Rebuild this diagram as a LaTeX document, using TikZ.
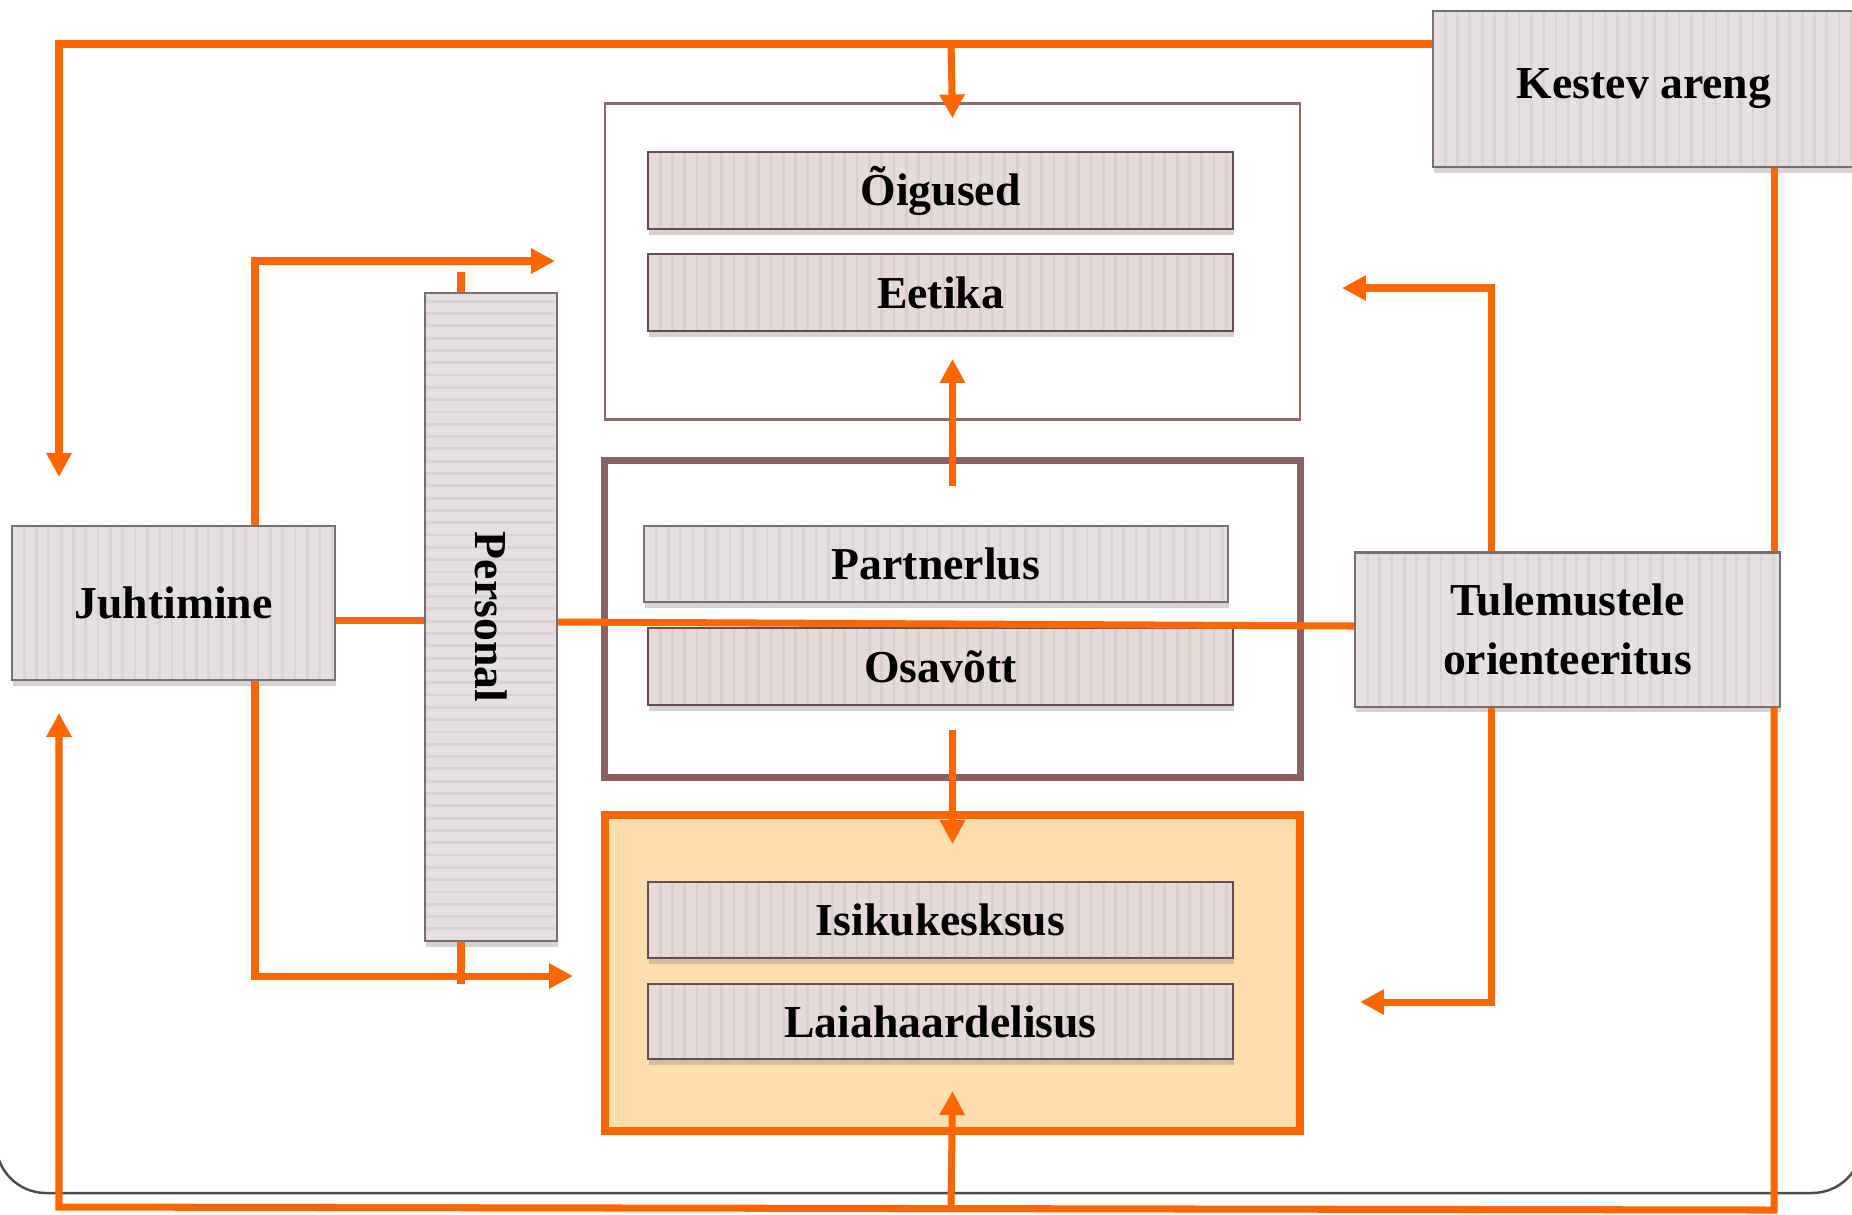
\documentclass[tikz,border=0pt]{standalone}
\usepackage{fontspec}
\setmainfont{Liberation Serif}
\usepackage{tikz}
\usetikzlibrary{arrows.meta,shadows}
\definecolor{orng}{rgb}{1,0.4,0}
\definecolor{peach}{rgb}{1,0.87,0.68}
\definecolor{cardgray}{rgb}{0.9,0.88,0.88}
\definecolor{cardpink}{rgb}{0.9,0.85,0.85}
\definecolor{cardline}{rgb}{0.48,0.43,0.43}
\definecolor{pinkline}{rgb}{0.42,0.3,0.3}
\definecolor{grpbrown}{rgb}{0.54,0.38,0.38}
\definecolor{grpline}{rgb}{0.55,0.42,0.42}

\begin{document}
\begin{tikzpicture}[>={Triangle[length=6.8pt,width=6.8pt]},x=0.01cm,y=-0.01cm,
  link/.style={draw=orng,line width=2pt},
  cardbase/.style={draw=cardline,line width=0.6pt,fill=cardgray,inner sep=0pt,
    font=\bfseries\fontsize{13}{17}\selectfont,align=center,
    drop shadow={shadow xshift=0.2pt,shadow yshift=-1.6pt,opacity=0.35}},
  card/.style={cardbase,path picture={
    \foreach \s in {0,...,70}
      \draw[black,opacity=0.05,line width=0.8pt]
        ([xshift=\s*3.5pt]path picture bounding box.south west) --
        ([xshift=\s*3.5pt]path picture bounding box.north west);}},
  pinkcard/.style={card,fill=cardpink,draw=pinkline},
  tallcard/.style={cardbase,path picture={
    \foreach \s in {0,...,60}
      \draw[black,opacity=0.05,line width=0.8pt]
        ([yshift=\s*3.5pt]path picture bounding box.south west) --
        ([yshift=\s*3.5pt]path picture bounding box.south east);}},
  group/.style={minimum width=6.95cm,minimum height=3.16cm,inner sep=0pt}]
      \useasboundingbox (0,0) rectangle (1852,1214);
      \clip (0,0) rectangle (1852,1214);
      % slide frame
      \draw[black!70,line width=0.7pt,rounded corners=0.5cm] (-4,-100) rectangle (1862,1193);
      % the three groups
      \node[group,draw=grpline,line width=0.7pt] (rightsgrp) at (952.5,261.5) {};
      \node[group,draw=grpbrown,line width=2pt] (partgrp) at (952.5,619) {};
      \node[group,draw=orng,fill=peach,line width=2.2pt] (persgrp) at (952.5,973) {};
      % cards
      \node[card,minimum width=4.22cm,minimum height=1.56cm] (kestev) at (1644,89) {Kestev areng};
      \node[pinkcard,minimum width=5.85cm,minimum height=0.77cm] (oigused) at (940.5,190.5) {Õigused};
      \node[pinkcard,minimum width=5.85cm,minimum height=0.77cm] (eetika) at (940.5,292.5) {Eetika};
      \node[card,minimum width=5.84cm,minimum height=0.76cm] (partner) at (936,564) {Partnerlus};
      \node[pinkcard,minimum width=5.85cm,minimum height=0.77cm] (osavott) at (940.5,666.5) {Osavõtt};
      \node[pinkcard,minimum width=5.85cm,minimum height=0.76cm] (isiku) at (940.5,920) {Isikukesksus};
      \node[pinkcard,minimum width=5.85cm,minimum height=0.75cm] (laia) at (940.5,1021.5) {Laiahaardelisus};
      \node[card,minimum width=3.23cm,minimum height=1.54cm] (juht) at (173.5,603) {Juhtimine};
      \node[tallcard,minimum width=1.32cm,minimum height=6.48cm,
        label={[rotate=-90,font=\bfseries\fontsize{13}{17}\selectfont]center:Personal}] (pers) at (491,617) {};
      \node[card,minimum width=4.25cm,minimum height=1.54cm] (tul) at (1567.5,629.5) {Tulemustele\\orienteeritus};
      % outer loop
      \draw[link,->] (kestev.west |- 0,44) -| (59,477);
      \draw[link,->] (951,44) -- ([yshift=-4.6pt]rightsgrp.north);
      \draw[link] (kestev.south -| 1774,0) -- (tul.north -| 1774,0);
      \draw[link,->] (tul.south -| 1774,0) -- (1774,1210) -- (59,1207) -- (59,713);
      \draw[link,->] (951,1208.5) -- ([yshift=12.5pt]persgrp.south);
      % between the groups
      \draw[link,->] ([yshift=-8pt]partgrp.north) -- ([yshift=17.6pt]rightsgrp.south);
      \draw[link,->] ([yshift=14.5pt]partgrp.south) -- ([yshift=-9.4pt]persgrp.north);
      % middle axis
      \draw[link] (juht.east |- 0,620) -- (pers.west |- 0,620);
      \draw[link] (pers.east |- 0,622) -- (tul.west |- 0,626);
      \draw[link] (pers.north -| 461,0) -- (461,272);
      \draw[link] (pers.south -| 461,0) -- (461,984);
      % side branches
      \draw[link,->] (juht.north -| 255,0) |- (555,261);
      \draw[link,->] (juht.south -| 255,0) |- (573,976);
      \draw[link,->] (tul.north -| 1491,0) |- (1342,288);
      \draw[link,->] (tul.south -| 1491,0) |- (1360,1002);
\end{tikzpicture}
\end{document}
